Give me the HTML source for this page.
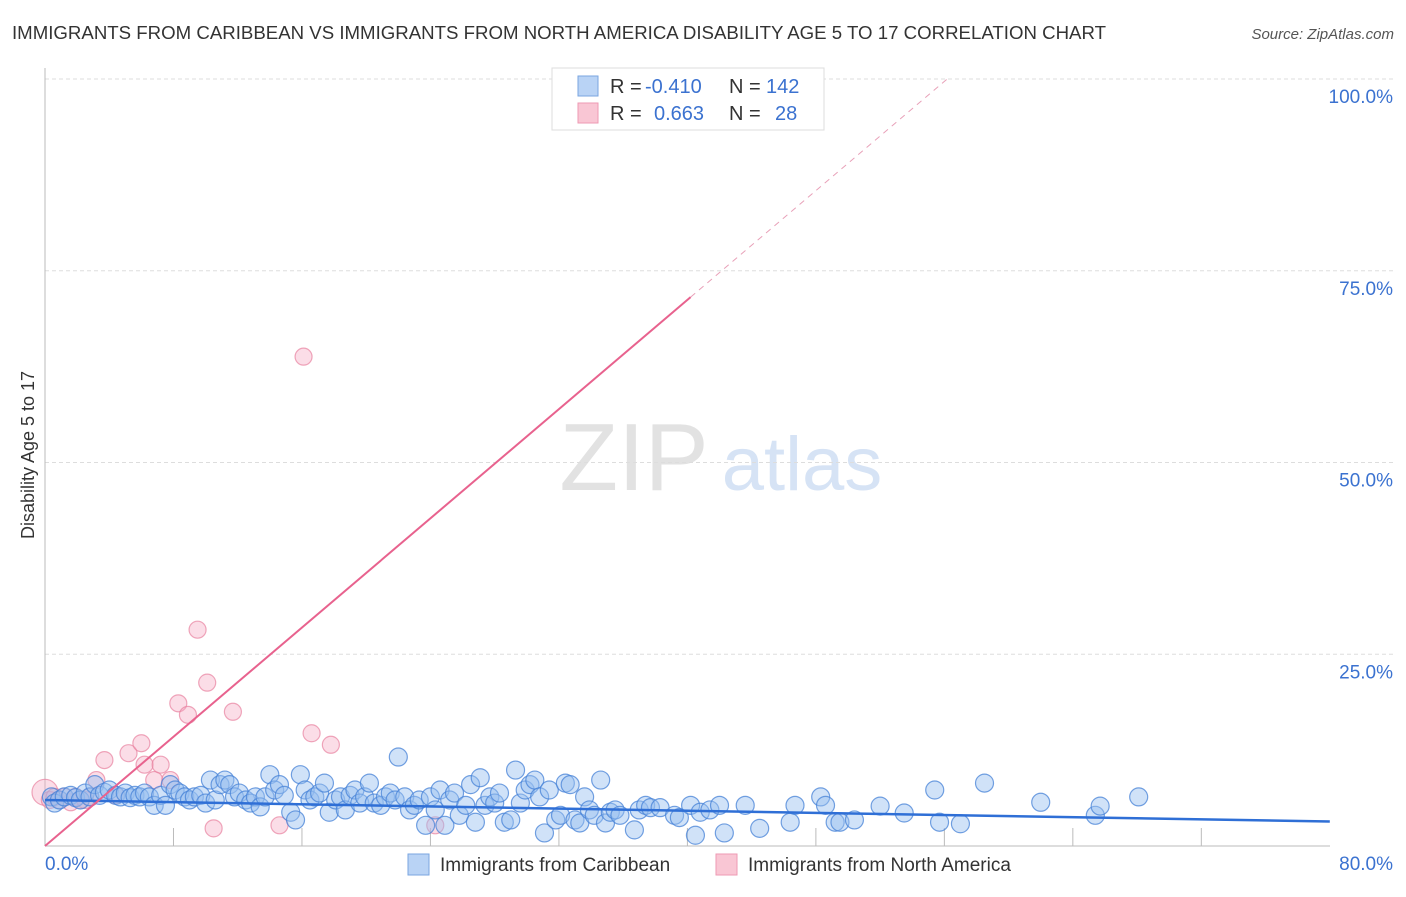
<!DOCTYPE html>
<html><head><meta charset="utf-8"><style>
body{margin:0;background:#fff;font-family:"Liberation Sans",sans-serif}
svg text{font-family:"Liberation Sans",sans-serif}
</style></head><body>
<svg id="chart" width="1406" height="892">
<text x="12" y="39" font-size="18" fill="#333" textLength="1094" lengthAdjust="spacingAndGlyphs">IMMIGRANTS FROM CARIBBEAN VS IMMIGRANTS FROM NORTH AMERICA DISABILITY AGE 5 TO 17 CORRELATION CHART</text>
<text x="1394" y="39" font-size="15" fill="#555" font-style="italic" text-anchor="end">Source: ZipAtlas.com</text>
<g>
<text x="634" y="490" font-size="96" fill="#e2e2e2" font-family="Liberation Serif" text-anchor="middle">ZIP</text>
<text x="802" y="490" font-size="76" fill="#d6e3f5" text-anchor="middle">atlas</text>
</g>
<g id="grid"></g>
<g id="axes"></g>
<g id="marks"></g>
<text transform="translate(34,455) rotate(-90)" font-size="18" fill="#333" text-anchor="middle">Disability Age 5 to 17</text>
<g>
<rect x="552" y="68" width="272" height="62" fill="#fff" stroke="#ddd"/>
<rect x="578" y="76" width="20" height="20" fill="#b9d3f5" stroke="#7aa6e0"/>
<rect x="578" y="103" width="20" height="20" fill="#f9c6d4" stroke="#ee9ab3"/>
<text x="610" y="93" font-size="20" fill="#333">R =</text>
<text x="645" y="93" font-size="20" fill="#3b72d0">-0.410</text>
<text x="729" y="93" font-size="20" fill="#333">N =</text>
<text x="766" y="93" font-size="20" fill="#3b72d0">142</text>
<text x="610" y="120" font-size="20" fill="#333">R =</text>
<text x="654" y="120" font-size="20" fill="#3b72d0">0.663</text>
<text x="729" y="120" font-size="20" fill="#333">N =</text>
<text x="775" y="120" font-size="20" fill="#3b72d0">28</text>
</g>
<g>
<rect x="408" y="854" width="21" height="21" fill="#b9d3f5" stroke="#7aa6e0"/>
<text x="440" y="871" font-size="19" fill="#333">Immigrants from Caribbean</text>
<rect x="716" y="854" width="21" height="21" fill="#f9c6d4" stroke="#ee9ab3"/>
<text x="748" y="871" font-size="19" fill="#333">Immigrants from North America</text>
</g>
</svg>
<script>
const blueX=[0.4,0.6,0.9,1.2,1.6,1.9,2.2,2.5,2.8,3.1,3.4,3.7,4.0,4.4,4.7,5.0,5.3,5.6,5.9,6.2,6.5,6.8,7.2,7.5,7.8,8.1,8.4,8.7,9.0,9.3,9.7,10.0,10.3,10.6,10.9,11.2,11.5,11.8,12.1,12.5,12.8,13.1,13.4,13.7,14.0,14.3,14.6,14.9,15.3,15.6,15.9,16.2,16.5,16.8,17.1,17.4,17.7,18.1,18.4,18.7,19.0,19.3,19.6,19.9,20.2,20.5,20.9,21.2,21.5,21.8,22.0,22.4,22.7,23.0,23.3,23.7,24.0,24.3,24.6,24.9,25.2,25.5,25.8,26.2,26.5,26.8,27.1,27.4,27.7,28.0,28.3,28.6,29.0,29.3,29.6,29.9,30.2,30.5,30.8,31.1,31.4,31.8,32.1,32.4,32.7,33.0,33.3,33.6,33.9,34.2,34.6,34.9,35.2,35.5,35.8,36.7,37.0,37.4,37.7,38.3,39.2,39.5,40.2,40.5,40.8,41.4,42.0,42.3,43.6,44.5,46.4,46.7,48.3,48.6,49.2,49.5,50.4,52.0,53.5,55.4,55.7,57.0,58.5,62.0,65.4,65.7,68.1];
const blueY=[6.4,5.6,6.0,6.4,6.6,6.3,6.0,6.9,6.4,8.0,6.6,7.0,7.3,6.6,6.4,6.9,6.3,6.6,6.4,6.9,6.4,5.3,6.6,5.3,8.0,7.3,6.9,6.4,6.0,6.4,6.6,5.6,8.6,6.0,8.0,8.6,8.0,6.4,6.9,6.0,5.6,6.4,5.1,6.4,9.3,7.3,8.0,6.6,4.4,3.4,9.3,7.3,6.0,6.4,6.9,8.2,4.4,6.0,6.4,4.7,6.6,7.3,5.6,6.4,8.2,5.6,5.3,6.4,6.9,6.0,11.6,6.4,4.7,5.3,6.0,2.7,6.4,4.7,7.3,2.7,6.0,6.9,4.0,5.3,8.0,3.1,8.9,5.3,6.4,5.6,6.9,3.1,3.4,9.9,5.6,7.3,8.0,8.6,6.4,1.7,7.3,3.4,4.0,8.2,8.0,3.4,3.0,6.4,4.7,4.0,8.6,3.0,4.4,4.7,4.0,2.1,4.7,5.3,5.0,5.0,4.0,3.7,5.3,1.4,4.4,4.7,5.3,1.7,5.3,2.3,3.1,5.3,6.4,5.3,3.1,3.1,3.4,5.2,4.3,7.3,3.1,2.9,8.2,5.7,4.0,5.2,6.4];
const pinkX=[0,0.3,0.6,0.9,1.2,1.6,1.9,2.2,2.5,2.8,3.2,3.7,4.4,5.2,6.0,6.2,6.8,7.2,7.8,8.3,8.9,9.5,10.1,10.5,11.7,14.6,16.1,16.6,17.8,24.3,33.2];
const pinkY=[7.0,6.0,6.4,6.0,6.4,5.7,6.4,6.0,6.0,6.4,8.6,11.2,6.6,12.1,13.4,10.6,8.6,10.6,8.6,18.6,17.1,28.2,21.3,2.3,17.5,2.7,63.8,14.7,13.2,2.7,99.9];
const yTicks=[25,50,75,100];
const yTickLabels=["25.0%","50.0%","75.0%","100.0%"];
const xTicks=[0,8,16,24,32,40,48,56,64,72,80];
const xEndLabels=["0.0%","80.0%"];
const blueTrend=[6.0,3.2];
const pinkSlope=1.78, pinkIntercept=0, pinkSolidEnd=40.2, pinkDashEnd=56.2;

const NS='http://www.w3.org/2000/svg';
const sx=v=>45+v*16.06, sy=v=>846-v*7.67;
function mk(tag,attrs,parent){const e=document.createElementNS(NS,tag);for(const k in attrs)e.setAttribute(k,attrs[k]);parent.appendChild(e);return e;}
const grid=document.getElementById('grid'),axes=document.getElementById('axes'),marks=document.getElementById('marks');
yTicks.forEach((t,i)=>{
  const l=mk('line',{x1:45,x2:1393,y1:sy(t),y2:sy(t),stroke:'#ddd','stroke-dasharray':'4,3'},grid);
  
  
  const tx=mk('text',{x:1393,y:sy(t)+24,'font-size':19,fill:'#3b72d0','text-anchor':'end'},axes);
  tx.textContent=yTickLabels[i];
  
  
});
const ya=mk('line',{x1:45,x2:45,y1:68,y2:846,stroke:'#bbb'},axes);


const xa=mk('line',{x1:45,x2:1330,y1:846,y2:846,stroke:'#bbb'},axes);


xTicks.slice(1,-1).forEach(t=>{
  const l=mk('line',{x1:sx(t),x2:sx(t),y1:828,y2:846,stroke:'#bbb'},axes);
  
  
});
const xl0=mk('text',{x:45,y:870,'font-size':19,fill:'#3b72d0'},axes);xl0.textContent=xEndLabels[0];


const xl1=mk('text',{x:1393,y:870,'font-size':19,fill:'#3b72d0','text-anchor':'end'},axes);xl1.textContent=xEndLabels[1];


pinkX.forEach((x,i)=>{
  const c=mk('circle',{cx:sx(x),cy:sy(pinkY[i]),r:i===0?13:8.5,fill:'rgba(245,170,195,0.4)',stroke:'rgba(232,130,160,0.7)','stroke-width':1.2},marks);
  
  
});
blueX.forEach((x,i)=>{
  const c=mk('circle',{cx:sx(x),cy:sy(blueY[i]),r:9,fill:'rgba(150,190,240,0.45)',stroke:'rgba(70,130,215,0.75)','stroke-width':1.2},marks);
  
  
});
const bt=mk('line',{x1:sx(0),y1:sy(blueTrend[0]),x2:sx(80),y2:sy(blueTrend[1]),stroke:'#2f6fd6','stroke-width':2.5},marks);


const pt=mk('line',{x1:sx(0),y1:sy(pinkIntercept),x2:sx(pinkSolidEnd),y2:sy(pinkIntercept+pinkSlope*pinkSolidEnd),stroke:'#e8628e','stroke-width':2},marks);


const pd=mk('line',{x1:sx(pinkSolidEnd),y1:sy(pinkIntercept+pinkSlope*pinkSolidEnd),x2:sx(pinkDashEnd),y2:sy(pinkIntercept+pinkSlope*pinkDashEnd),stroke:'#e8a0b8','stroke-width':1,'stroke-dasharray':'6,5'},marks);


</script>
</body></html>
